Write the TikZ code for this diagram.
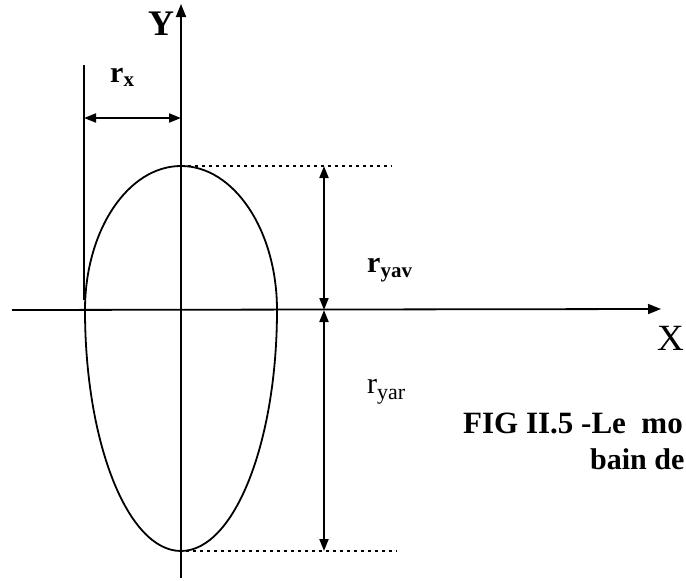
\documentclass[tikz,border=0pt]{standalone}
\usepackage{fontspec}
\setmainfont{Liberation Serif}
\usetikzlibrary{arrows.meta}
\tikzset{
  ln/.style={line width=1.8pt, black},
  dim/.style={ln, {Triangle[length=12pt,width=9pt]}-{Triangle[length=12pt,width=9pt]}},
  axis/.style={ln, -{Triangle[length=13pt,width=10pt]}},
  dotln/.style={line width=2pt, dash pattern=on 3pt off 4pt},
  lbl/.style={inner sep=0pt, anchor=base west},
}
\begin{document}
\begin{tikzpicture}[x=1pt,y=-1pt]
\useasboundingbox (0,0) rectangle (686,581);
% coordinates
\coordinate (O) at (181,310);
\coordinate (ytop) at (181,4);
\coordinate (ybot) at (181,578);
\coordinate (xl) at (12,310);
\coordinate (xr) at (661,309);
\coordinate (ll1) at (84,65);
\coordinate (ll2) at (84,300);
\coordinate (rxa) at (84,118);
\coordinate (rxb) at (181,118);
\coordinate (etop) at (181,166);
\coordinate (ebot) at (186,551);
\coordinate (dt) at (392,166);
\coordinate (db) at (397,551);
\coordinate (va) at (324,166);
\coordinate (vb) at (324,310);
\coordinate (vc) at (324,551);
% egg shape
\draw[ln] (85,310) arc[start angle=180,end angle=360,x radius=96,y radius=144];
\draw[ln] (277,310) arc[start angle=0,end angle=180,x radius=96,y radius=241];
% axes
\draw[axis] (ybot) -- (ytop);
\draw[axis] (xl) -- (xr);
% left line and rx dimension
\draw[ln] (ll1) -- (ll2);
\draw[dim] (rxa) -- (rxb);
% dotted lines
\draw[dotln] (etop) -- (dt);
\draw[dotln] (ebot) -- (db);
% vertical dimensions
\draw[dim] (va) -- (vb);
\draw[dim] (vb) -- (vc);
% labels
\node[lbl] (Y) at (148,35) {\fontsize{36}{40}\selectfont\bfseries Y};
\node[lbl] (X) at (657,350) {\fontsize{37}{40}\selectfont X};
\node[lbl] (rx) at (110,82) {\fontsize{30}{34}\selectfont\bfseries r\raisebox{-4pt}{\fontsize{21}{22}\selectfont x}};
\node[lbl] (ryav) at (367,272) {\fontsize{30}{34}\selectfont\bfseries r\raisebox{-5pt}{\fontsize{21}{22}\selectfont yav}};
\node[lbl] (ryar) at (367,393) {\fontsize{30}{34}\selectfont r\raisebox{-6pt}{\fontsize{22}{22}\selectfont yar}};
\node[lbl] (cap1) at (463,433) {\fontsize{31}{36}\selectfont\bfseries FIG II.5 -Le\ \ mo};
\node[lbl] (cap2) at (590,469) {\fontsize{30}{36}\selectfont\bfseries bain de};
\end{tikzpicture}
\end{document}
